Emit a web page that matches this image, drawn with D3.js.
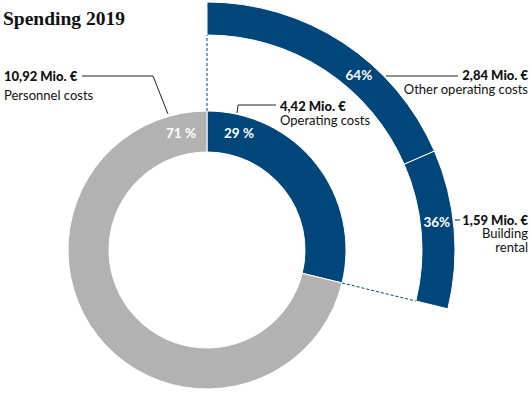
<!DOCTYPE html>
<html>
<head>
<meta charset="utf-8">
<script src="https://cdn.jsdelivr.net/npm/d3@7"></script>
<style>
  body { margin: 0; background: #fff; }
  svg text { font-family: Lato, "Noto Sans", sans-serif; }
</style>
</head>
<body>
<div id="chart"></div>
<script>
const width = 530;
const height = 393;

// main split
const mainCategories = ['Operating costs', 'Personnel costs'];
const mainValues = [4.42, 10.92];
const mainShares = ['29 %', '71 %'];

// breakdown of operating costs
const subCategories = ['Other operating costs', 'Building rental'];
const subValues = [2.84, 1.59];
const subShares = ['64%', '36%'];

const valueLabel = v => d3.format('.2f')(v).replace('.', ',') + ' Mio. €';

const blue = '#00467b';
const grey = '#b2b2b2';

const cx = 207, cy = 250;
const innerR = 98, outerR = 139;
const ring2Inner = 215, ring2Outer = 248;

const svg = d3.select('#chart')
  .append('svg')
  .attr('width', width)
  .attr('height', height);

svg.append('text')
  .text('Spending 2019')
  .attr('x', 3)
  .attr('y', 25)
  .style('font-family', '"Liberation Serif", serif')
  .style('font-weight', 'bold')
  .style('font-size', '19.5px')
  .attr('fill', '#111');

const g = svg.append('g').attr('transform', `translate(${cx},${cy})`);

const mainPie = d3.pie().sort(null).value(d => d)(mainValues);
const mainArc = d3.arc().innerRadius(innerR).outerRadius(outerR);

g.selectAll('path.main')
  .data(mainPie)
  .enter()
  .append('path')
  .attr('class', 'main')
  .attr('d', mainArc)
  .attr('fill', (d, i) => i === 0 ? blue : grey)
  .attr('stroke', '#fff')
  .attr('stroke-width', 1);

const opEnd = mainPie[0].endAngle;
const subPie = d3.pie().sort(null).startAngle(0).endAngle(opEnd).value(d => d)(subValues);
const subArc = d3.arc().innerRadius(ring2Inner).outerRadius(ring2Outer);

g.selectAll('path.sub')
  .data(subPie)
  .enter()
  .append('path')
  .attr('class', 'sub')
  .attr('d', subArc)
  .attr('fill', blue)
  .attr('stroke', '#fff')
  .attr('stroke-width', 1);

// connector dashes between the two rings
const polar = (r, a) => [r * Math.sin(a), -r * Math.cos(a)];
[0, opEnd].forEach(a => {
  const p1 = polar(outerR, a), p2 = polar(ring2Inner, a);
  g.append('line')
    .attr('x1', p1[0]).attr('y1', p1[1])
    .attr('x2', p2[0]).attr('y2', p2[1])
    .attr('stroke', blue)
    .attr('stroke-width', 1)
    .attr('stroke-dasharray', '3,2');
});

// shares inside the main ring
const midR = (innerR + outerR) / 2;
g.append('text').text(mainShares[1])
  .attr('x', -11).attr('y', -midR + 6)
  .attr('text-anchor', 'end')
  .attr('fill', '#fff').style('font-weight', 'bold').style('font-size', '13.5px');
g.append('text').text(mainShares[0])
  .attr('x', 17).attr('y', -midR + 6)
  .attr('text-anchor', 'start')
  .attr('fill', '#fff').style('font-weight', 'bold').style('font-size', '13.5px');

// shares inside the outer ring
const subMid = (ring2Inner + ring2Outer) / 2;
const subLabelAngles = [41, 83].map(a => a * Math.PI / 180);
subShares.forEach((s, i) => {
  const p = polar(subMid, subLabelAngles[i]);
  g.append('text').text(s)
    .attr('x', p[0]).attr('y', p[1] + 5)
    .attr('text-anchor', 'middle')
    .attr('fill', '#fff').style('font-weight', 'bold').style('font-size', '13.5px');
});

const line = d3.line();
function leader(pts) {
  svg.append('path')
    .attr('d', line(pts))
    .attr('fill', 'none')
    .attr('stroke', '#222')
    .attr('stroke-width', 1);
}
function label(x, y, anchor, lines, gaps) {
  const t = svg.append('text')
    .attr('x', x).attr('y', y)
    .attr('text-anchor', anchor)
    .attr('fill', '#111')
    .style('font-size', '13px');
  lines.forEach((l, i) => {
    t.append('tspan')
      .attr('x', x)
      .attr('dy', i === 0 ? 0 : gaps[i - 1])
      .style('font-weight', i === 0 ? '900' : 'normal')
      .text(l);
  });
}

// Personnel costs
label(4, 81, 'start', [valueLabel(mainValues[1]), mainCategories[1]], [19]);
leader([[82, 76], [153, 76], [168, 114]]);

// Operating costs
label(280, 111, 'start', [valueLabel(mainValues[0]), mainCategories[0]], [14]);
leader([[237, 113], [238, 105], [276, 105]]);

// Other operating costs
label(528, 80, 'end', [valueLabel(subValues[0]), subCategories[0]], [14]);
leader([[386, 76], [458, 76]]);

// Building rental
label(528, 225, 'end', [valueLabel(subValues[1]), 'Building', 'rental'], [13, 14]);
leader([[455, 220], [460, 220]]);
</script>
</body>
</html>
